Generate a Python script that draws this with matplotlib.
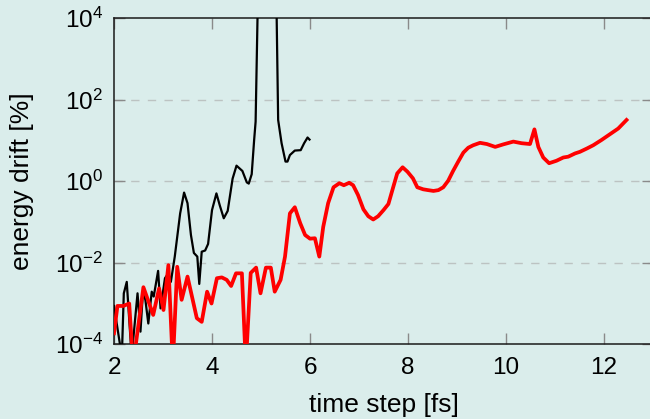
import matplotlib
matplotlib.use("Agg")
import matplotlib.pyplot as plt
import numpy as np

plt.rcParams['font.family'] = ['Liberation Sans', 'DejaVu Sans']
plt.rcParams['mathtext.fontset'] = 'custom'
plt.rcParams['mathtext.rm'] = 'Liberation Sans'
plt.rcParams['mathtext.it'] = 'Liberation Sans:italic'

bg = '#daedeb'

# red run: time step [fs] vs log10(energy drift [%])
red_x = [2.00, 2.07, 2.19, 2.31, 2.39, 2.60, 2.80, 2.92, 3.01, 3.11, 3.20, 3.29, 3.38,
         3.50, 3.69, 3.79, 3.90, 3.99, 4.10, 4.20, 4.30, 4.39, 4.49, 4.61, 4.69, 4.79,
         4.90, 4.99, 5.10, 5.20, 5.28, 5.40, 5.49, 5.59, 5.69, 5.80, 5.90, 6.00, 6.10,
         6.19, 6.27, 6.37, 6.48, 6.60, 6.69, 6.80, 6.88, 6.98, 7.09, 7.19, 7.29, 7.39,
         7.50, 7.60, 7.70, 7.78, 7.89, 7.99, 8.10, 8.19, 8.31, 8.41, 8.52, 8.62, 8.72,
         8.82, 8.92, 9.03, 9.13, 9.23, 9.33, 9.47, 9.61, 9.78, 9.94, 10.15, 10.32, 10.49,
         10.58, 10.66, 10.76, 10.88, 11.03, 11.17, 11.27, 11.41, 11.51, 11.65, 11.78,
         11.95, 12.12, 12.29, 12.46]
red_log = [-3.73, -3.06, -3.06, -3.00, -4.5, -2.60, -3.28, -2.63, -3.16, -2.06, -4.5, -2.10,
           -2.91, -2.34, -3.36, -3.45, -2.71, -3.00, -2.38, -2.36, -2.42, -2.57, -2.26, -2.26,
           -4.5, -2.25, -2.12, -2.75, -2.12, -2.12, -2.71, -2.42, -1.85, -0.79, -0.64, -1.03,
           -1.32, -1.41, -1.40, -1.85, -1.12, -0.54, -0.15, -0.05, -0.10, -0.04, -0.10, -0.34,
           -0.69, -0.86, -0.94, -0.86, -0.71, -0.56, -0.14, 0.19, 0.34, 0.23, 0.07, -0.15,
           -0.20, -0.22, -0.24, -0.22, -0.15, 0.01, 0.25, 0.49, 0.70, 0.82, 0.88, 0.94, 0.91,
           0.84, 0.90, 0.97, 0.93, 0.91, 1.27, 0.84, 0.58, 0.44, 0.50, 0.58, 0.60, 0.68, 0.72,
           0.80, 0.88, 1.01, 1.15, 1.29, 1.50]

# black run
black_x = [2.00, 2.16, 2.20, 2.26, 2.36, 2.48, 2.54, 2.59, 2.64, 2.70, 2.77, 2.81, 2.90,
           2.95, 3.04, 3.11, 3.16, 3.24, 3.35, 3.43, 3.50, 3.57, 3.63, 3.70, 3.74, 3.79,
           3.86, 3.92, 4.00, 4.09, 4.16, 4.24, 4.32, 4.42, 4.50, 4.62, 4.71, 4.75, 4.81,
           4.86, 4.89, 4.95, 5.10, 5.31, 5.35, 5.42, 5.50, 5.54, 5.59, 5.69, 5.81, 5.88,
           5.95, 5.99]
black_log = [-3.06, -4.3, -2.75, -2.47, -4.3, -2.75, -3.69, -2.71, -2.91, -3.49, -2.71,
             -2.83, -2.20, -3.12, -2.38, -2.26, -2.47, -1.85, -0.79, -0.28, -0.54, -1.32,
             -1.76, -1.85, -2.52, -1.73, -1.70, -1.54, -0.71, -0.30, -0.60, -0.91, -0.73,
             0.06, 0.38, 0.25, -0.03, -0.06, 0.17, 1.01, 1.46, 5.4, 6.5, 4.8, 1.50, 0.93,
             0.48, 0.48, 0.64, 0.75, 0.76, 0.93, 1.07, 1.02]

x_ticks = [2, 4, 6, 8, 10, 12]
y_ticks = [1e-4, 1e-2, 1e0, 1e2, 1e4]
y_labels = [r'$10^{-4}$', r'$10^{-2}$', r'$10^{0}$', r'$10^{2}$', r'$10^{4}$']

fig = plt.figure(figsize=(6.5, 4.19), dpi=100, facecolor=bg)
ax = fig.add_axes([0.1754, 0.1783, 0.8292, 0.7787], facecolor=bg)

ax.plot(black_x, 10.0 ** np.array(black_log), color='black', lw=1.6, zorder=3)
ax.plot(red_x, 10.0 ** np.array(red_log), color='#ff0000', lw=2.7, zorder=4)

ax.set_yscale('log')
ax.set_xlim(2, 13)
ax.set_ylim(1e-4, 1e4)
ax.set_xticks(x_ticks)
ax.set_yticks(y_ticks)
ax.set_yticklabels(y_labels)
ax.minorticks_off()

for yv in [1e-2, 1e0, 1e2]:
    ax.axhline(yv, color='#bcc3c2', lw=1.0, dashes=(6, 6), zorder=1)

ax.tick_params(direction='in', length=8, width=1.0, color='#8a8a8a',
               top=True, right=True, labelsize=17.5)
ax.tick_params(axis='x', pad=9)
ax.tick_params(axis='y', pad=8)
for s in ax.spines.values():
    s.set_color('#1a1a1a')
    s.set_linewidth(1.1)

ax.set_xlabel('time step [fs]', fontsize=19, labelpad=10)
ax.set_ylabel('energy drift [%]', fontsize=19, labelpad=15)

fig.savefig('out.png', dpi=100, facecolor=bg)
